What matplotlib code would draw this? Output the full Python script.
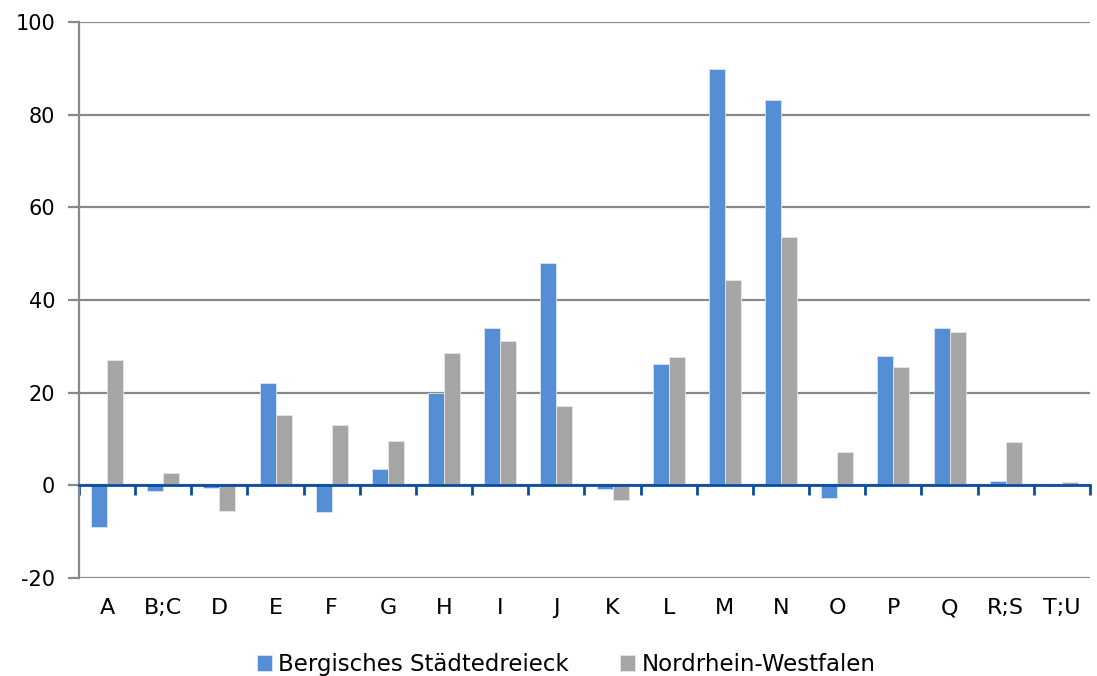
import matplotlib
matplotlib.use("Agg")
import matplotlib.pyplot as plt
import matplotlib.transforms as mtransforms
import numpy as np

plt.rcParams['font.family'] = ['DejaVu Sans']
plt.rcParams['axes.unicode_minus'] = False

categories = ['A', 'B;C', 'D', 'E', 'F', 'G', 'H', 'I', 'J', 'K', 'L', 'M', 'N', 'O', 'P', 'Q', 'R;S', 'T;U']
bergisch = [-8.9, -1.3, -0.6, 22.1, -5.7, 3.6, 19.9, 34.0, 47.9, -0.9, 26.2, 89.8, 83.2, -2.7, 28.0, 33.9, 0.9, -0.1]
nrw = [27.1, 2.7, -5.6, 15.1, 13.0, 9.5, 28.5, 31.2, 17.2, -3.1, 27.7, 44.3, 53.5, 7.2, 25.6, 33.1, 9.4, 0.8]

blue = '#558ED5'
gray = '#A6A6A6'
axis_blue = '#0B4EA2'
grid_gray = '#898989'

fig = plt.figure(figsize=(10.97, 6.76), dpi=100)
ax = fig.add_axes([0.072, 0.145, 0.9216, 0.8225])

x = np.arange(len(categories))
w = 0.285
ax.bar(x - w/2, bergisch, w, color=blue, edgecolor='#dbe6f5', linewidth=0.6, zorder=3, label='Bergisches Städtedreieck')
ax.bar(x + w/2, nrw, w, color=gray, edgecolor='#e6e6e6', linewidth=0.6, zorder=3, label='Nordrhein-Westfalen')

ax.set_xlim(-0.5, len(categories) - 0.5)
ax.set_ylim(-20, 100)
ax.set_yticks(np.arange(-20, 101, 20))
ax.yaxis.grid(True, color=grid_gray, linewidth=1.6, zorder=0)
ax.tick_params(axis='y', length=8, width=1.6, color=grid_gray, labelsize=15, pad=9)

for s in ['top', 'right']:
    ax.spines[s].set_visible(False)
ax.spines['left'].set_color(grid_gray)
ax.spines['left'].set_linewidth(1.6)

# zero axis with category separators
ax.spines['bottom'].set_position(('data', 0))
ax.spines['bottom'].set_color(axis_blue)
ax.spines['bottom'].set_linewidth(2)
ax.spines['bottom'].set_zorder(4)
ax.set_xticks(np.arange(len(categories) + 1) - 0.5)
ax.set_xticklabels([])
ax.tick_params(axis='x', length=7, width=2, color=axis_blue, direction='out')

trans = mtransforms.blended_transform_factory(ax.transData, ax.transAxes)
for i, c in enumerate(categories):
    ax.text(i, -0.054, c, transform=trans, ha='center', va='center', fontsize=16)

fig.legend(loc='center', bbox_to_anchor=(0.516, 0.017), ncol=2, frameon=False,
           fontsize=16.5, handlelength=0.65, handleheight=0.65, handletextpad=0.3,
           columnspacing=2.2)

fig.savefig('out.png', dpi=100)
